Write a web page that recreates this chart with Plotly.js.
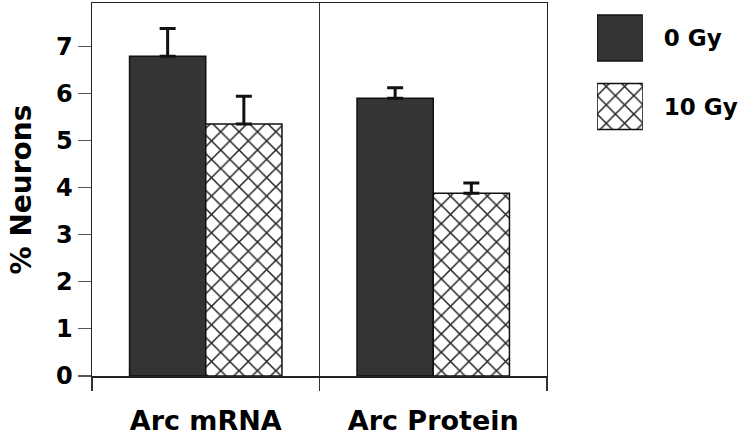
<!DOCTYPE html>
<html>
<head>
<meta charset="utf-8">
<script src="https://cdn.plot.ly/plotly-3.0.1.min.js"></script>
<style>
  html, body { margin: 0; padding: 0; background: #fff; }
  #arc { width: 747px; height: 439px; }
</style>
</head>
<body>
<div id="arc"></div>
<script>
var categories = ['Arc mRNA', 'Arc Protein'];
var series = ['0 Gy', '10 Gy'];
var values0 = [6.79, 5.90];
var values10 = [5.35, 3.88];
var err0 = [0.59, 0.22];
var err10 = [0.59, 0.22];
var yTicks = [0, 1, 2, 3, 4, 5, 6, 7];

var fnt = 'DejaVu Sans, Liberation Sans, Arial, sans-serif';
var dark = '#343434';
var hatch = {shape: 'x', fgcolor: '#222', bgcolor: '#fff', size: 13, solidity: 0.22};
var outline = {color: '#111', width: 1.5};

var trace0 = {
  x: categories,
  y: values0,
  name: series[0],
  type: 'bar',
  marker: {color: dark, line: outline},
  error_y: {type: 'data', array: err0, arrayminus: [0, 0], color: '#111', thickness: 3, width: 8},
  showlegend: false
};
var trace10 = {
  x: categories,
  y: values10,
  name: series[1],
  type: 'bar',
  marker: {color: '#fff', pattern: hatch, line: outline},
  error_y: {type: 'data', array: err10, arrayminus: [0, 0], color: '#111', thickness: 3, width: 8},
  showlegend: false
};
// legend boxes, drawn as bars on their own small axes
var legend0 = {
  x: [1],
  y: [series[0]],
  type: 'bar',
  orientation: 'h',
  xaxis: 'x2',
  yaxis: 'y2',
  offsetgroup: 'leg',
  marker: {color: dark, line: outline},
  hoverinfo: 'skip',
  showlegend: false
};
var legend10 = {
  x: [1],
  y: [series[1]],
  type: 'bar',
  orientation: 'h',
  xaxis: 'x2',
  yaxis: 'y2',
  offsetgroup: 'leg',
  marker: {color: '#fff', pattern: hatch, line: outline},
  hoverinfo: 'skip',
  showlegend: false
};

var layout = {
  width: 747,
  height: 439,
  margin: {l: 92, r: 10, t: 3, b: 63},
  paper_bgcolor: '#fff',
  plot_bgcolor: '#fff',
  barmode: 'group',
  bargap: 0.33,
  bargroupgap: 0,
  font: {family: fnt, color: '#000'},
  xaxis: {
    domain: [0, 0.7054],
    type: 'category',
    tickson: 'boundaries',
    ticks: 'outside',
    ticklen: 13,
    tickwidth: 1.2,
    tickcolor: '#333',
    showgrid: true,
    gridcolor: '#333',
    gridwidth: 1,
    showline: true,
    linecolor: '#222',
    linewidth: 1.5,
    mirror: true,
    zeroline: false,
    tickfont: {size: 27, family: fnt, weight: 'bold'},
    ticklabelstandoff: 20
  },
  yaxis: {
    range: [0, 7.92],
    tickvals: yTicks,
    ticktext: yTicks.map(String),
    ticks: 'outside',
    ticklen: 13,
    tickwidth: 1.2,
    tickcolor: '#555',
    showgrid: false,
    showline: true,
    linecolor: '#222',
    linewidth: 1.5,
    mirror: true,
    zeroline: false,
    tickfont: {size: 24, family: fnt, weight: 'bold'},
    title: {text: '% Neurons', font: {size: 28, family: fnt, weight: 'bold'}, standoff: 16}
  },
  xaxis2: {
    domain: [0.783, 0.854],
    anchor: 'y2',
    range: [0, 1],
    visible: false,
    fixedrange: true
  },
  yaxis2: {
    domain: [0.6307, 0.998],
    anchor: 'x2',
    type: 'category',
    autorange: 'reversed',
    side: 'right',
    showgrid: false,
    zeroline: false,
    showline: false,
    ticks: '',
    ticklabelstandoff: 20,
    tickfont: {size: 23, family: fnt, weight: 'bold'},
    fixedrange: true
  }
};

Plotly.newPlot('arc', [trace0, trace10, legend0, legend10], layout, {displayModeBar: false, staticPlot: true});
</script>
</body>
</html>
